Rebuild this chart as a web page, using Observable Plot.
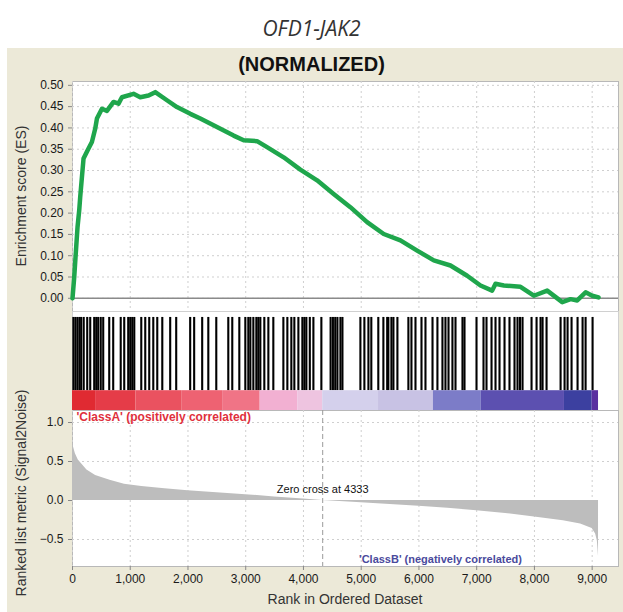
<!DOCTYPE html>
<html>
<head>
<meta charset="utf-8">
<script src="https://cdn.jsdelivr.net/npm/d3@7"></script>
<script src="https://cdn.jsdelivr.net/npm/@observablehq/plot@0.6"></script>
<style>
  html, body { margin: 0; padding: 0; background: #ffffff; }
  #wrap { position: relative; width: 623px; height: 612px; overflow: hidden; font-family: "Liberation Sans", Arial, sans-serif; }
  #beige { position: absolute; left: 7px; top: 48px; width: 616px; height: 564px; background: #ece9d8; }
  #title { position: absolute; left: 0; width: 623px; top: 14px; text-align: center; font-family: "Open Sans", sans-serif; font-style: italic; font-size: 21px; color: #333; }
  #sub { position: absolute; left: 0; width: 623px; top: 53px; text-align: center; font-family: "Liberation Sans", Arial, sans-serif; font-weight: bold; font-size: 20px; color: #111; }
  .ylab { position: absolute; font-size: 14px; color: #333; white-space: nowrap; transform: translate(-50%, -50%) rotate(-90deg); }
  #xlab { position: absolute; left: 72px; width: 546px; top: 591px; text-align: center; font-size: 14px; color: #333; }
</style>
</head>
<body>
<div id="wrap">
  <div id="beige"></div>
  <div id="title">OFD1-JAK2</div>
  <div id="sub">(NORMALIZED)</div>
  <div class="ylab" style="left:21px; top:196px;">Enrichment score (ES)</div>
  <div class="ylab" style="left:21px; top:493px;">Ranked list metric (Signal2Noise)</div>
  <div id="xlab">Rank in Ordered Dataset</div>
</div>
<script>
// ---------- data ----------
const esRank  = [0, 30, 52, 87, 116, 133, 168, 191, 260, 336, 393, 423, 510, 596, 711, 797, 856, 1057, 1173, 1317, 1433, 1636, 1809, 2040, 2213, 2502, 2790, 2964, 3196, 3369, 3657, 3946, 4236, 4523, 4812, 5102, 5390, 5679, 5969, 6257, 6546, 6835, 7066, 7268, 7326, 7470, 7759, 7990, 8221, 8482, 8626, 8741, 8886, 9002, 9110];
const esValue = [0, 0.05, 0.096, 0.167, 0.206, 0.237, 0.292, 0.328, 0.347, 0.367, 0.398, 0.422, 0.445, 0.440, 0.461, 0.457, 0.472, 0.480, 0.472, 0.476, 0.484, 0.465, 0.449, 0.433, 0.422, 0.402, 0.382, 0.371, 0.369, 0.355, 0.331, 0.302, 0.277, 0.245, 0.214, 0.179, 0.151, 0.136, 0.112, 0.089, 0.077, 0.053, 0.030, 0.018, 0.034, 0.030, 0.027, 0.006, 0.018, -0.009, -0.002, -0.005, 0.014, 0.006, 0.002];

const hitRank = [15, 50, 85, 120, 150, 194, 255, 307, 376, 411, 445, 489, 532, 636, 705, 835, 896, 965, 1000, 1035, 1070, 1191, 1260, 1329, 1399, 1468, 1555, 1692, 1796, 2038, 2107, 2246, 2352, 2490, 2698, 2767, 2889, 2993, 3045, 3080, 3132, 3184, 3218, 3253, 3322, 3392, 3478, 3652, 3721, 3790, 3842, 3912, 3981, 4016, 4050, 4110, 4172, 4310, 4470, 4510, 4550, 4588, 4640, 4675, 4986, 5055, 5125, 5175, 5296, 5384, 5450, 5470, 5523, 5558, 5627, 5817, 5870, 5940, 6044, 6113, 6235, 6320, 6407, 6459, 6512, 6580, 6633, 6754, 6789, 6997, 7118, 7170, 7257, 7326, 7395, 7482, 7568, 7655, 7707, 7750, 7794, 7950, 8037, 8106, 8141, 8210, 8453, 8522, 8574, 8643, 8747, 8834, 8886, 9007];

const metricRank  = [0, 20, 50, 100, 250, 400, 650, 900, 1200, 1600, 2000, 2500, 3000, 3500, 4000, 4333, 5000, 5500, 6000, 6500, 7000, 7500, 8000, 8500, 8800, 9000, 9060, 9090, 9110];
const metricValue = [0.76, 0.68, 0.60, 0.52, 0.39, 0.32, 0.26, 0.21, 0.18, 0.15, 0.125, 0.10, 0.075, 0.045, 0.02, 0, -0.03, -0.05, -0.075, -0.10, -0.13, -0.165, -0.21, -0.26, -0.30, -0.36, -0.43, -0.52, -0.72];

const bandStart  = [0, 400, 1100, 1900, 2600, 3250, 3900, 4333, 5300, 6250, 7080, 8520, 9000];
const bandEnd    = [400, 1100, 1900, 2600, 3250, 3900, 4333, 5300, 6250, 7080, 8520, 9000, 9110];
const bandMetric = [0.55, 0.35, 0.22, 0.15, 0.11, 0.06, 0.025, -0.02, -0.05, -0.1, -0.2, -0.32, -0.45];

const xTicks = [0, 1000, 2000, 3000, 4000, 5000, 6000, 7000, 8000, 9000];
const esTicks = [0, 0.05, 0.10, 0.15, 0.20, 0.25, 0.30, 0.35, 0.40, 0.45, 0.50];
const metricTicks = [-0.5, 0, 0.5, 1.0];
const zeroCross = 4333;
const classALabel = "'ClassA' (positively correlated)";
const classBLabel = "'ClassB' (negatively correlated)";

// ---------- build ----------
const es = esRank.map((r, i) => ({rank: r, value: esValue[i]}));
const metric = metricRank.map((r, i) => ({rank: r, value: metricValue[i]}));
const bands = bandStart.map((s, i) => ({start: s, end: bandEnd[i], value: bandMetric[i]}));

const W = 623, ML = 72, MR = 5;
const xDomain = [0, 9456];
const fmtX = d3.format(",");
const fontStyle = {fontFamily: "'Liberation Sans', Arial, sans-serif", fontSize: "12px", background: "transparent", overflow: "visible", color: "#1a1a1a"};
const wrap = document.getElementById("wrap");
function place(svg, top) {
  svg.style.position = "absolute";
  svg.style.left = "0px";
  svg.style.top = top + "px";
  wrap.appendChild(svg);
}

// Panel 1: enrichment score
const p1 = Plot.plot({
  width: W, height: 241,
  marginLeft: ML, marginRight: MR, marginTop: 11, marginBottom: 0,
  style: fontStyle,
  x: {domain: xDomain},
  y: {domain: [-0.031, 0.509]},
  marks: [
    Plot.frame({fill: "white", stroke: "#b8b8b8"}),
    Plot.gridX(xTicks, {stroke: "#cfcfcf", strokeOpacity: 1, strokeDasharray: "2,3"}),
    Plot.gridY(esTicks, {stroke: "#cfcfcf", strokeOpacity: 1, strokeDasharray: "2,3"}),
    Plot.ruleY([0], {stroke: "#8a8a8a", strokeWidth: 1.5}),
    Plot.axisY(esTicks, {tickFormat: ".2f", tickSize: 4, tickPadding: 5, label: null, stroke: "#888", fill: "#1a1a1a"}),
    Plot.axisX({ticks: [], label: null}),
    Plot.line(es, {x: "rank", y: "value", stroke: "#1fa64c", strokeWidth: 4.5, strokeLinejoin: "round"})
  ]
});
place(p1, 70);

// Panel 2: hits and colour bar
const bandColors = ["#5a30a0", "#3c40a0", "#5c50b0", "#7c7cc8", "#c8c2e4", "#d4d0ec", "#eec4e0", "#f2b0d2", "#f07486", "#ee6272", "#ea5260", "#e53c48", "#e02a32"];
const p2 = Plot.plot({
  width: W, height: 99,
  marginLeft: ML, marginRight: MR, marginTop: 0, marginBottom: 0,
  style: fontStyle,
  x: {domain: xDomain, axis: null},
  y: {domain: [0, 1], axis: null},
  color: {type: "linear", domain: [...bandMetric].sort((a, b) => a - b), range: bandColors},
  marks: [
    Plot.frame({fill: "white", stroke: "#d0d0d0"}),
    Plot.ruleX(hitRank, {x: d => d, y1: 0.2, y2: 0.94, stroke: "black", strokeWidth: 2.1}),
    Plot.rectY(bands, {x1: "start", x2: "end", y1: 0, y2: 0.2, fill: "value", inset: 0})
  ]
});
place(p2, 311);

// Panel 3: ranked list metric
const p3 = Plot.plot({
  width: W, height: 180,
  marginLeft: ML, marginRight: MR, marginTop: 0, marginBottom: 24,
  style: fontStyle,
  x: {domain: xDomain},
  y: {domain: [-0.846, 1.154]},
  marks: [
    Plot.frame({fill: "white", stroke: "#b8b8b8"}),
    Plot.gridX(xTicks, {stroke: "#cfcfcf", strokeOpacity: 1, strokeDasharray: "2,3"}),
    Plot.gridY(metricTicks.filter(d => d !== 0), {stroke: "#cfcfcf", strokeOpacity: 1, strokeDasharray: "2,3"}),
    Plot.areaY(metric, {x: "rank", y: "value", fill: "#bdbdbd"}),
    Plot.ruleX([zeroCross], {stroke: "#9a9a9a", strokeDasharray: "5,3", strokeWidth: 1}),
    Plot.axisY(metricTicks, {tickFormat: ".1f", tickSize: 4, tickPadding: 5, label: null, stroke: "#888", fill: "#1a1a1a"}),
    Plot.axisX(xTicks, {tickFormat: fmtX, tickSize: 4, tickPadding: 4, label: null, stroke: "#888", fill: "#1a1a1a"}),
    Plot.text([classALabel], {frameAnchor: "top-left", textAnchor: "start", lineAnchor: "top", dx: 4, dy: 2, fill: "#e0303c", fontWeight: "bold", fontSize: 12}),
    Plot.text([`Zero cross at ${zeroCross}`], {x: [zeroCross], y: [0], dy: -11, lineAnchor: "middle", fill: "#111", fontSize: 11}),
    Plot.text([classBLabel], {frameAnchor: "bottom", textAnchor: "middle", lineAnchor: "bottom", dx: 95, dy: -4, fill: "#4a4a9c", fontWeight: "bold", fontSize: 11})
  ]
});
place(p3, 410);
</script>
</body>
</html>
